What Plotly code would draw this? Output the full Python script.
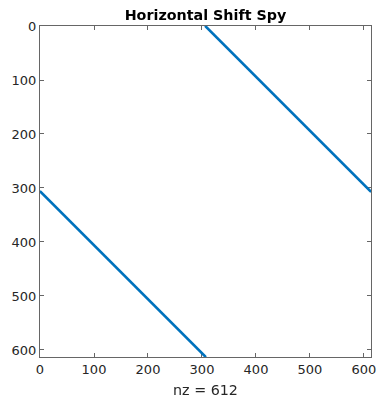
import numpy as np
import plotly.graph_objects as go

# Matrix description: 612x612 identity circularly shifted horizontally by 306 columns
n = 612
shift = 306
title_text = "Horizontal Shift Spy"
tick_vals = [0, 100, 200, 300, 400, 500, 600]

M = np.roll(np.eye(n), shift, axis=1)
rows, cols = np.nonzero(M)
rows = rows + 1
cols = cols + 1
nz = len(rows)

fig = go.Figure()
fig.add_trace(go.Scattergl(
    x=cols, y=rows, mode="markers",
    marker=dict(color="#0072BD", size=2.8, line=dict(width=0)),
    hoverinfo="skip", showlegend=False,
))

axis_common = dict(
    showgrid=False, zeroline=False, ticks="inside", ticklen=4, tickwidth=1,
    tickcolor="#666666", showline=True, linecolor="#666666", linewidth=1,
    mirror="ticks", tickvals=tick_vals, automargin=False,
    tickfont=dict(family="DejaVu Sans", size=13, color="#262626"),
)
fig.update_layout(
    width=377, height=399,
    margin=dict(l=40, r=6, t=26, b=42),
    paper_bgcolor="white", plot_bgcolor="white",
    title=dict(text="<b>" + title_text + "</b>", x=(40 + 371) / 2 / 377, xanchor="center",
               y=1 - 15 / 399, yanchor="middle",
               font=dict(family="DejaVu Sans", size=14.3, color="#000000")),
    xaxis=dict(range=[0, n + 1], title=dict(text=f"nz = {nz}", standoff=9,
               font=dict(family="DejaVu Sans", size=14.3, color="#262626")), **axis_common),
    yaxis=dict(range=[n + 1, 0], **axis_common),
)
fig.write_html("out.html")
